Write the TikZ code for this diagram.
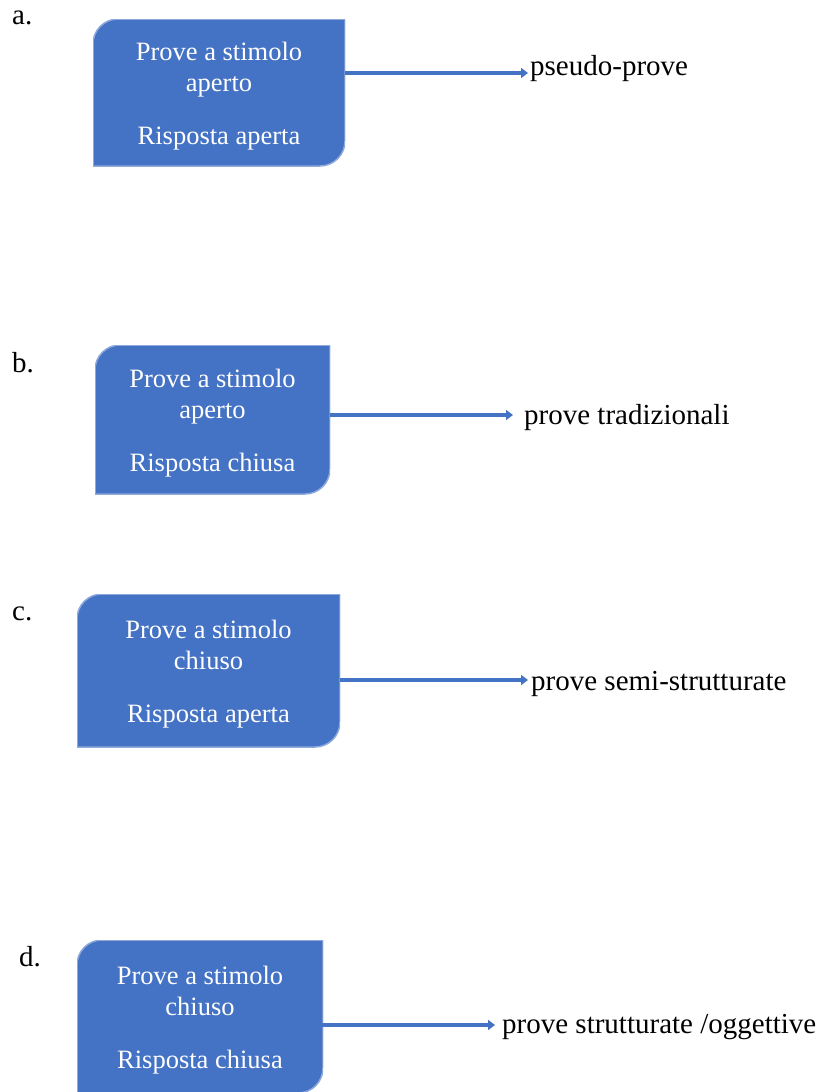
\documentclass[tikz,border=0pt]{standalone}
\usepackage{fontspec}
\setmainfont{Liberation Serif}
\usetikzlibrary{arrows.meta,positioning}
\usepackage{xcolor}
\definecolor{boxblue}{HTML}{4472C4}
\definecolor{boxedge}{HTML}{8EA9DB}

\tikzset{
  blockbox/.style={minimum width=#1, inner sep=0pt, align=center,
    text=white, font=\fontsize{26.5}{31}\selectfont,
    path picture={
      \filldraw[fill=boxblue, draw=boxedge, line width=1.5pt]
        (path picture bounding box.north east)
        -- ([yshift=25pt]path picture bounding box.south east)
        arc[start angle=0, end angle=-90, radius=25pt]
        -- (path picture bounding box.south west)
        -- ([yshift=-25pt]path picture bounding box.north west)
        arc[start angle=180, end angle=90, radius=25pt]
        -- cycle;}},
  lbl/.style={anchor=base west, inner sep=0pt, font=\fontsize{29}{34}\selectfont},
  arr/.style={-{Triangle[length=7pt,width=10pt]}, draw=boxblue, line width=3.5pt}
}

\begin{document}
\begin{tikzpicture}[x=1pt,y=-1pt]
  \useasboundingbox (0,0) rectangle (820,1092);
  % a.
  \node (leta) [lbl] at (12,24) {a.};
  \node (boxa) [blockbox=252pt, minimum height=147pt] at (219,92.5)
    {\rule{0pt}{26pt}Prove a stimolo\\aperto\\[22pt]Risposta aperta};
  \coordinate (enda) at (528,73);
  \node (lbla) [lbl] at (530,75) {pseudo-prove};
  \draw[arr] (boxa.east |- enda) -- (enda);
  % b.
  \node (letb) [lbl] at (12,372) {b.};
  \node (boxb) [blockbox=235pt, minimum height=149pt] at (212.5,419.5)
    {\rule{0pt}{26pt}Prove a stimolo\\aperto\\[22pt]Risposta chiusa};
  \coordinate (endb) at (513,415);
  \node (lblb) [lbl] at (524,424) {prove tradizionali};
  \draw[arr] (boxb.east |- endb) -- (endb);
  % c.
  \node (letc) [lbl] at (12,620) {c.};
  \node (boxc) [blockbox=263pt, minimum height=153pt] at (208.5,670.5)
    {\rule{0pt}{26pt}Prove a stimolo\\chiuso\\[22pt]Risposta aperta};
  \coordinate (endc) at (528,680);
  \node (lblc) [lbl] at (531,690) {prove semi-strutturate};
  \draw[arr] (boxc.east |- endc) -- (endc);
  % d.
  \node (letd) [lbl] at (19,966) {d.};
  \node (boxd) [blockbox=246pt, minimum height=153pt] at (200,1016.5)
    {\rule{0pt}{26pt}Prove a stimolo\\chiuso\\[22pt]Risposta chiusa};
  \coordinate (endd) at (495,1025);
  \node (lbld) [lbl] at (502,1033) {prove strutturate /oggettive};
  \draw[arr] ([xshift=-5pt]boxd.east |- endd) -- (endd);
\end{tikzpicture}
\end{document}
